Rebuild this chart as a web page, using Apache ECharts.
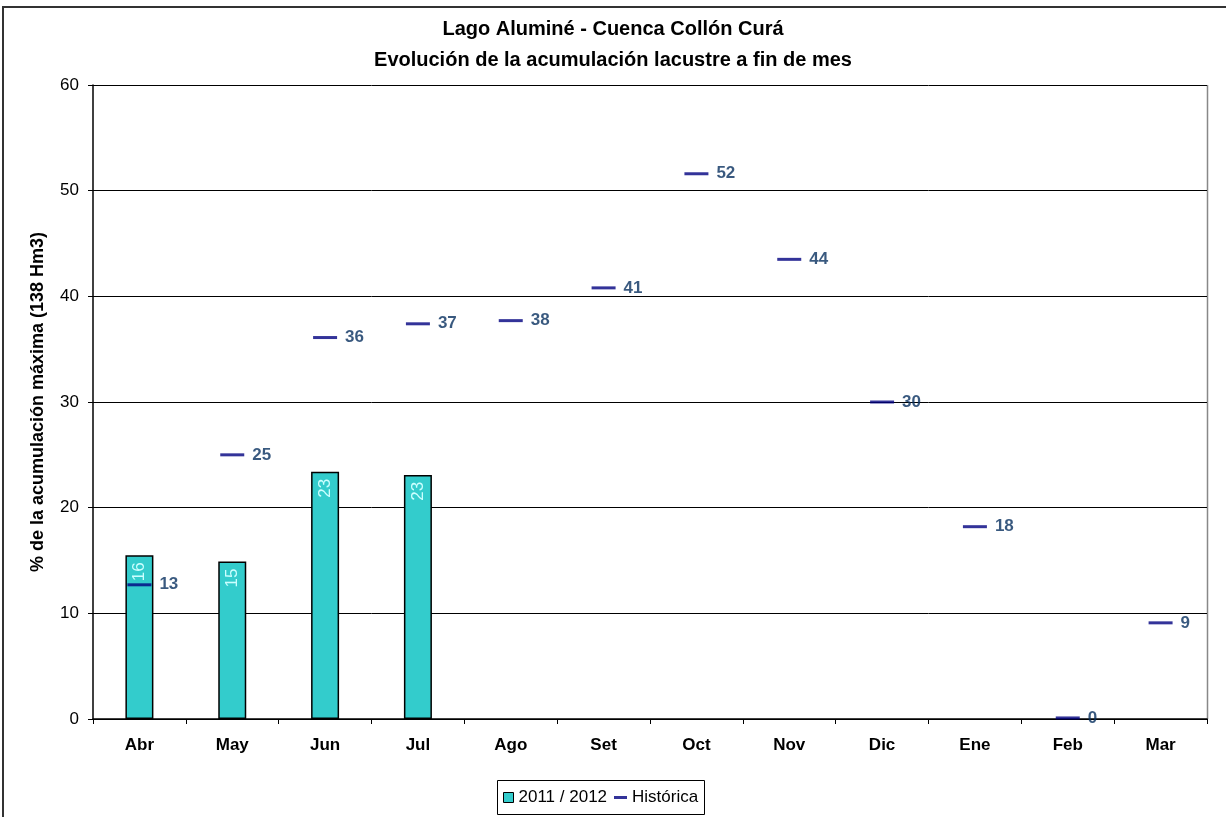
<!DOCTYPE html>
<html>
<head>
<meta charset="utf-8">
<script src="https://cdn.jsdelivr.net/npm/echarts@6/dist/echarts.min.js"></script>
<style>
  html, body { margin: 0; padding: 0; background: #fff; }
  #chart { width: 1226px; height: 817px; }
</style>
</head>
<body>
<div id="chart"></div>
<script>
// Meses del año hidrológico
var meses = ['Abr', 'May', 'Jun', 'Jul', 'Ago', 'Set', 'Oct', 'Nov', 'Dic', 'Ene', 'Feb', 'Mar'];
// Acumulación 2011/2012 (% de la acumulación máxima)
var temporada = [15.5, 14.9, 23.4, 23.1, null, null, null, null, null, null, null, null];
// Acumulación histórica a fin de mes
var historica = [12.7, 25.0, 36.1, 37.4, 37.7, 40.8, 51.6, 43.5, 30.0, 18.2, 0.1, 9.1];
var ejeY = [0, 10, 20, 30, 40, 50, 60];

var font = '"Liberation Sans", Arial, sans-serif';
var chart = echarts.init(document.getElementById('chart'));

chart.setOption({
  animation: false,
  backgroundColor: '#ffffff',
  textStyle: { fontFamily: font },
  title: {
    text: 'Lago Aluminé - Cuenca Collón Curá\nEvolución de la acumulación lacustre a fin de mes',
    left: 'center',
    top: 14,
    padding: 0,
    textStyle: { fontFamily: font, fontSize: 20, fontWeight: 'bold', color: '#000', lineHeight: 31 }
  },
  graphic: [
    { type: 'rect', shape: { x: 3, y: 7, width: 1240, height: 830 },
      style: { fill: 'none', stroke: '#333', lineWidth: 2 }, silent: true },
    { type: 'rect', shape: { x: 497.5, y: 780.5, width: 207, height: 34 },
      style: { fill: '#fff', stroke: '#000', lineWidth: 1 }, silent: true, z: 0 },
    // borde derecho del área de trazado
    { type: 'line', shape: { x1: 1207.5, y1: 85, x2: 1207.5, y2: 719 },
      style: { stroke: '#888', lineWidth: 1.5 }, silent: true }
  ],
  legend: [
    {
      data: ['2011 / 2012'],
      left: 503, top: 789, padding: 0,
      icon: 'rect', itemWidth: 10, itemHeight: 10, itemGap: 6,
      itemStyle: { borderColor: '#000', borderWidth: 1 },
      textStyle: { fontFamily: font, fontSize: 17, color: '#000' },
      z: 5
    },
    {
      data: ['Histórica'],
      left: 614, top: 789, padding: 0,
      icon: 'rect', itemWidth: 13, itemHeight: 3, itemGap: 6,
      textStyle: { fontFamily: font, fontSize: 17, color: '#000' },
      z: 5
    }
  ],
  grid: { left: 93, right: 19, top: 85, bottom: 98 },
  xAxis: {
    type: 'category',
    data: meses,
    axisLine: { lineStyle: { color: '#000', width: 1.5 } },
    axisTick: { show: true, length: 5, lineStyle: { color: '#000' } },
    axisLabel: { fontFamily: font, fontSize: 17, fontWeight: 'bold', color: '#000', margin: 18 },
    splitLine: { show: false }
  },
  yAxis: {
    type: 'value',
    min: ejeY[0], max: ejeY[ejeY.length - 1], interval: 10,
    name: '% de la acumulación máxima (138 Hm3)',
    nameLocation: 'middle',
    nameGap: 46,
    nameTextStyle: { fontFamily: font, fontSize: 18, fontWeight: 'bold', color: '#000' },
    axisLine: { show: true, lineStyle: { color: '#000', width: 1.5 } },
    axisTick: { show: true, length: 5, lineStyle: { color: '#000' } },
    axisLabel: { fontFamily: font, fontSize: 17, color: '#000', margin: 14 },
    splitLine: { show: true, lineStyle: { color: '#000', width: 1 } }
  },
  series: [
    {
      name: '2011 / 2012',
      type: 'bar',
      data: temporada,
      barWidth: 28,
      itemStyle: { color: '#33CCCC', borderColor: '#000', borderWidth: 1.5 },
      label: {
        show: true,
        position: 'insideTop',
        distance: 7,
        rotate: 90,
        align: 'right',
        verticalAlign: 'middle',
        fontFamily: font,
        fontSize: 17,
        color: '#CCFFFF',
        formatter: function (p) { return Math.round(p.value); }
      },
      z: 2
    },
    {
      name: 'Histórica',
      type: 'scatter',
      data: historica,
      symbol: 'rect',
      symbolSize: [24, 3],
      itemStyle: { color: '#000080' },
      label: {
        show: true,
        position: 'right',
        distance: 8,
        fontFamily: font,
        fontSize: 17,
        fontWeight: 'bold',
        color: '#08305F',
        formatter: function (p) { return Math.round(p.value); }
      },
      z: 3
    }
  ]
});
</script>
</body>
</html>
